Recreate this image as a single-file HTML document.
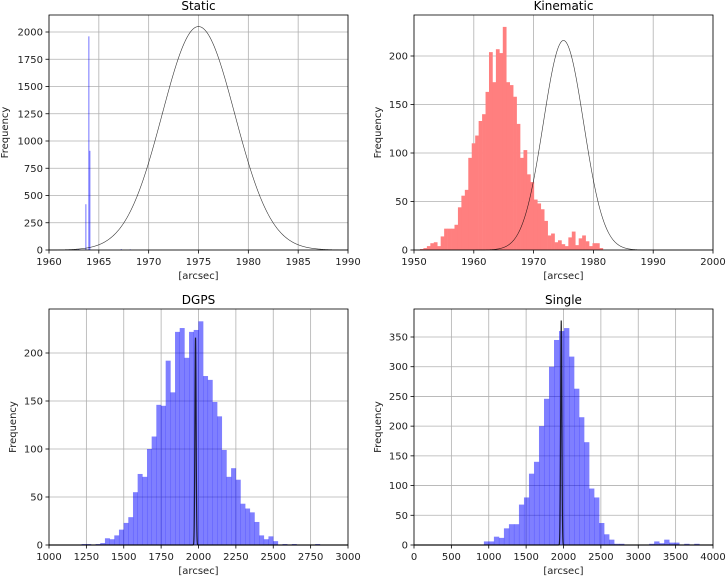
<!DOCTYPE html><html><head><style>body{margin:0;background:#fff}svg{display:block;font-family:"DejaVu Sans","Liberation Sans",sans-serif}</style></head><body>
<svg id="s" width="727" height="577" xmlns="http://www.w3.org/2000/svg"></svg>
<script>
var S=document.getElementById('s'),h='';
function panel(p){
 var X=v=>p.x0+(v-p.xa)/(p.xb-p.xa)*(p.x1-p.x0), Y=v=>p.y1-v*p.ys;
 p.xt.forEach(t=>{var x=X(t);h+=`<line x1="${x}" x2="${x}" y1="${p.y0}" y2="${p.y1}" stroke="#b0b0b0" stroke-width="0.8"/><line x1="${x}" x2="${x}" y1="${p.y1}" y2="${p.y1+3.5}" stroke="#000" stroke-width="0.8"/><text x="${x}" y="${p.y1+15}" font-size="10" text-anchor="middle" fill="#222">${t}</text>`});
 p.yt.forEach(t=>{var y=Y(t);h+=`<line x1="${p.x0}" x2="${p.x1}" y1="${y}" y2="${y}" stroke="#b0b0b0" stroke-width="0.8"/><line x1="${p.x0-3.5}" x2="${p.x0}" y1="${y}" y2="${y}" stroke="#000" stroke-width="0.8"/><text x="${p.x0-6}" y="${y+3.5}" font-size="10" text-anchor="end" fill="#222">${t}</text>`});
 var st=p.start,w=p.w;
 p.bars.forEach((v,i)=>{if(v>0){var a=X(st+i*w),b=X(st+(i+1)*w);h+=`<rect x="${a}" y="${Y(v)}" width="${b-a+0.3}" height="${v*p.ys}" fill="${p.col}"/>`}});
 (p.extra||[]).forEach(e=>{var a=X(e[0]),b=X(e[0]+e[2]);h+=`<rect x="${a}" y="${Y(e[1])}" width="${Math.max(b-a,1)}" height="${e[1]*p.ys}" fill="${p.col}"/>`});
 var pts=[],N=3000;for(var i=0;i<=N;i++){var v=p.xa+(p.xb-p.xa)*i/N;pts.push(X(v).toFixed(2)+','+Y(p.pk*Math.exp(-(v-p.mu)*(v-p.mu)/(2*p.sd*p.sd))).toFixed(2))}
 h+=`<polyline points="${pts.join(' ')}" fill="none" stroke="#000" stroke-width="${p.lw||0.6}" opacity="0.8"/>`;
 h+=`<rect x="${p.x0}" y="${p.y0}" width="${p.x1-p.x0}" height="${p.y1-p.y0}" fill="none" stroke="#000" stroke-width="0.8"/>`;
 h+=`<text x="${(p.x0+p.x1)/2}" y="${p.y0-5}" font-size="12" text-anchor="middle" fill="#000">${p.title}</text>`;
 h+=`<text x="${(p.x0+p.x1)/2}" y="${p.y1+29}" font-size="10" text-anchor="middle" fill="#222">[arcsec]</text>`;
 var yc=(p.y0+p.y1)/2;h+=`<text x="${p.lx}" y="${yc}" font-size="10" text-anchor="middle" fill="#222" transform="rotate(-90 ${p.lx} ${yc})">Frequency</text>`;
}
panel({x0:49,x1:348,y0:15,y1:250,xa:1960,xb:1990,ys:218/2000,xt:[1960,1965,1970,1975,1980,1985,1990],yt:[0,250,500,750,1000,1250,1500,1750,2000],
 start:0,w:1,bars:[],col:"rgba(0,0,255,0.55)",extra:[[1963.65,420,0.1],[1963.95,1960,0.1],[1964.05,910,0.1],[1962.9,8,0.1],[1967.2,8,0.1],[1968.1,6,0.1]],
 mu:1975,pk:2050,sd:3.65,title:"Static",lx:8});
panel({x0:414,x1:713,y0:15,y1:250,xa:1950,xb:2000,ys:194/200,xt:[1950,1960,1970,1980,1990,2000],yt:[0,50,100,150,200],
 start:1951,w:0.577,col:"#ff7f7f",bars:[1,2,4,7,8,4,14,22,22,22,26,44,56,62,95,110,118,133,140,163,204,173,207,203,230,173,170,158,130,95,103,78,70,52,48,42,30,15,17,8,10,6,4,13,19,5,12,15,9,4,7,7,2],
 mu:1975,pk:216,sd:3.37,title:"Kinematic",lx:381});
panel({x0:49,x1:348,y0:309,y1:545,xa:1000,xb:3000,ys:192/200,xt:[1000,1250,1500,1750,2000,2250,2500,2750,3000],yt:[0,50,100,150,200],
 start:1218,w:31.25,col:"rgba(0,0,255,0.5)",bars:[1,1,0,1,2,7,6,10,16,23,29,55,74,71,100,113,146,145,192,159,222,226,195,222,224,233,176,172,149,134,99,71,80,68,43,38,34,24,10,6,9,4,0,1,0,1,0,0,0,0,1],
 mu:1980,pk:216,sd:4,lw:1.2,title:"DGPS",lx:16});
panel({x0:414,x1:713,y0:309,y1:545,xa:0,xb:4000,ys:208/350,xt:[0,500,1000,1500,2000,2500,3000,3500,4000],yt:[0,50,100,150,200,250,300,350],
 start:935,w:67,col:"rgba(0,0,255,0.5)",bars:[6,6,14,12,28,35,35,68,80,120,140,200,246,300,345,360,365,317,263,215,173,95,80,37,18,9,2,2,0,0,0,0,0,2,6,3,9,4,4,0,2,0,2],
 mu:1970,pk:378,sd:8,lw:1.2,title:"Single",lx:381});
S.innerHTML=h;
</script></body></html>
